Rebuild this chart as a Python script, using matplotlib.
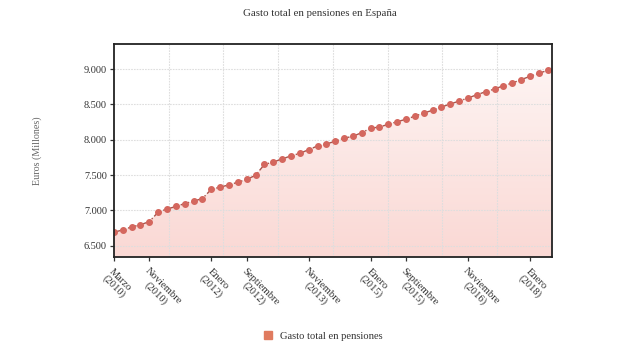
import matplotlib
matplotlib.use("Agg")
import matplotlib.pyplot as plt
import numpy as np
from matplotlib.patches import Polygon
from matplotlib.colors import LinearSegmentedColormap
from matplotlib.lines import Line2D

plt.rcParams['font.family'] = ['Liberation Serif', 'DejaVu Serif']

# Bimonthly data, March 2010 .. May 2018
month_names = ["Enero", "Marzo", "Mayo", "Julio", "Septiembre", "Noviembre"]
categories = [f"{m}\n({y})" for y in range(2010, 2019) for m in month_names][1:51]

values = [6690, 6725, 6766, 6797, 6841, 6976, 7020, 7055, 7097, 7131,
          7168, 7298, 7329, 7361, 7399, 7439, 7496, 7650, 7684, 7728,
          7771, 7808, 7858, 7912, 7940, 7978, 8021, 8049, 8100, 8162,
          8180, 8218, 8255, 8289, 8334, 8378, 8416, 8463, 8505, 8547,
          8590, 8636, 8679, 8717, 8764, 8802, 8849, 8897, 8939, 8982]

tick_labels = ["Marzo\n(2010)", "Noviembre\n(2010)", "Enero\n(2012)", "Septiembre\n(2012)",
               "Noviembre\n(2013)", "Enero\n(2015)", "Septiembre\n(2015)",
               "Noviembre\n(2016)", "Enero\n(2018)"]
y_ticks = [6500, 7000, 7500, 8000, 8500, 9000]
y_tick_labels = ["6.500", "7.000", "7.500", "8.000", "8.500", "9.000"]

fig = plt.figure(figsize=(6.4, 3.6), dpi=100)
ax = fig.add_axes([0.178, 0.287, 0.684, 0.591])

x = np.arange(len(values))
xmin, xmax = 0, len(values) - 1 + 0.45
ymin, ymax = 6345, 9355
ax.set_xlim(xmin, xmax)
ax.set_ylim(ymin, ymax)

# gradient fill under the line
grad = np.linspace(0, 1, 256).reshape(-1, 1)
cmap = LinearSegmentedColormap.from_list("g", ["#fad8d4", "#fef7f6"])
im = ax.imshow(grad, extent=[xmin, xmax, ymin, ymax], origin='lower',
               aspect='auto', cmap=cmap, zorder=1)
verts = [(xmin, ymin)] + list(zip(x, values)) + [(xmax, values[-1]), (xmax, ymin)]
poly = Polygon(verts, closed=True, facecolor='none', edgecolor='none')
ax.add_patch(poly)
im.set_clip_path(poly)

# grid
for yv in y_ticks:
    ax.axhline(yv, color='#dedede', lw=0.8, ls=(0, (1.5, 1)), zorder=2)
for xv in np.linspace(xmin, xmax, 9)[1:-1]:
    ax.axvline(xv, color='#dedede', lw=0.8, ls=(0, (1.5, 1)), zorder=2)

ax.plot(x, values, color='#a8554c', lw=1.0, ls='-.', zorder=3)
ax.plot(x, values, ls='none', marker='o', ms=4.0, color='#d4675e', zorder=4)

# ticks
tick_idx = [categories.index(t) for t in tick_labels]
ax.set_xticks(tick_idx)
ax.set_xticklabels(tick_labels, rotation=-45, ha='left', va='top',
                   rotation_mode='anchor', multialignment='center',
                   fontsize=7.6, color='#333333', linespacing=1.05)
ax.set_yticks(y_ticks)
ax.set_yticklabels(y_tick_labels, fontsize=7.4, color='#333333')
ax.tick_params(axis='both', length=3, width=0.9, color='#333333', pad=2)
ax.tick_params(axis='x', pad=4)

for s in ax.spines.values():
    s.set_color('#222222')
    s.set_linewidth(1.3)
    s.set_zorder(5)

ax.set_ylabel("Euros (Millones)", fontsize=7.2, color='#666666', labelpad=30)

fig.text(0.5, 0.962, "Gasto total en pensiones en España", ha='center', va='center',
         fontsize=7.8, color='#333333')

# legend
handle = Line2D([], [], ls='none', marker='s', ms=5.5, color='#e07b5f')
fig.legend([handle], ["Gasto total en pensiones"], loc='center',
           bbox_to_anchor=(0.5, 0.067), frameon=False, fontsize=7.6,
           handletextpad=0.1, labelcolor='#333333')

fig.savefig("out.png", dpi=100)
